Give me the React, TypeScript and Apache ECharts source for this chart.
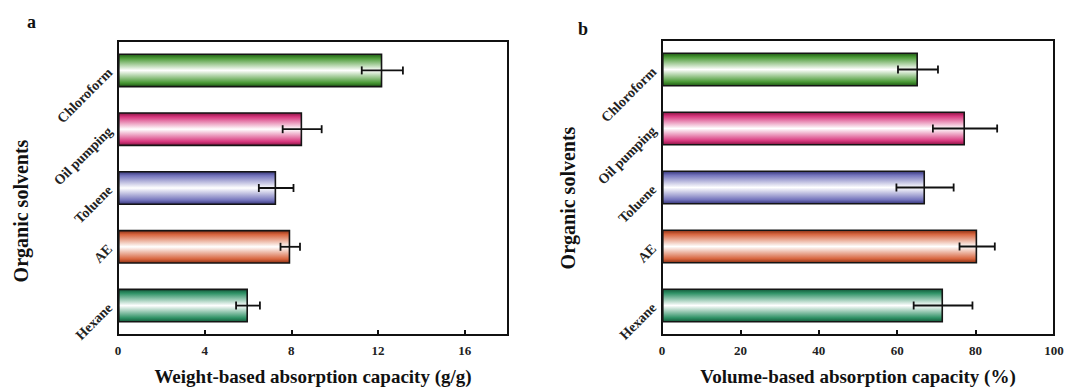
import React, { useEffect, useRef } from "react";
import * as echarts from "echarts";

const categories = ["Chloroform", "Oil pumping", "Toluene", "AE", "Hexane"];
const weightValues = [12.2, 8.5, 7.3, 7.95, 6.0];
const weightErrors = [0.95, 0.9, 0.8, 0.45, 0.55];
const volumeValues = [65.3, 77.3, 67.1, 80.4, 71.7];
const volumeErrors = [5.1, 8.2, 7.3, 4.5, 7.5];
const barColors = ["#4a9a36", "#d8387e", "#7474bc", "#d8653e", "#2f9266"];
const darkColors = ["#1f5a14", "#8a1444", "#36367a", "#8a3014", "#135a3a"];
const yTitle = "Organic solvents";

const FONT = "'Liberation Serif', 'Times New Roman', serif";

function gradient(i: number) {
  return new echarts.graphic.LinearGradient(0, 0, 0, 1, [
    { offset: 0, color: darkColors[i] },
    { offset: 0.12, color: barColors[i] },
    { offset: 0.5, color: "#ffffff" },
    { offset: 0.88, color: barColors[i] },
    { offset: 1, color: darkColors[i] },
  ]);
}

function errorSeries(values: number[], errs: number[], idx: number) {
  return {
    type: "custom",
    xAxisIndex: idx,
    yAxisIndex: idx,
    z: 5,
    encode: { x: [1, 2], y: 0 },
    data: values.map((v, i) => [i, v - errs[i], v + errs[i]]),
    renderItem: (params: any, api: any) => {
      const c = api.value(0);
      const p1 = api.coord([api.value(1), c]);
      const p2 = api.coord([api.value(2), c]);
      const h = 4;
      const style = { stroke: "#111", lineWidth: 1.8 };
      return {
        type: "group",
        children: [
          { type: "line", shape: { x1: p1[0], y1: p1[1], x2: p2[0], y2: p2[1] }, style },
          { type: "line", shape: { x1: p1[0], y1: p1[1] - h, x2: p1[0], y2: p1[1] + h }, style },
          { type: "line", shape: { x1: p2[0], y1: p2[1] - h, x2: p2[0], y2: p2[1] + h }, style },
        ],
      };
    },
  };
}

function barSeries(values: number[], idx: number) {
  return {
    type: "bar",
    xAxisIndex: idx,
    yAxisIndex: idx,
    barWidth: 34,
    data: values.map((v, i) => ({
      value: v,
      itemStyle: { color: gradient(i), borderColor: "#151515", borderWidth: 1.6 },
    })),
  };
}

function xAxis(gridIndex: number, max: number, interval: number, name: string) {
  return {
    type: "value",
    gridIndex,
    min: 0,
    max,
    interval,
    name,
    nameLocation: "middle",
    nameGap: 32,
    nameTextStyle: { fontFamily: FONT, fontWeight: "bold", fontSize: 19, color: "#111" },
    axisLine: { show: true, lineStyle: { color: "#111", width: 2 } },
    axisTick: { show: true, inside: true, length: 5, lineStyle: { color: "#111", width: 2 } },
    axisLabel: {
      show: true,
      margin: 9,
      fontFamily: FONT,
      fontWeight: "bold",
      fontSize: 13,
      color: "#222",
      showMaxLabel: max % interval === 0,
    },
    splitLine: { show: false },
  };
}

function yAxis(gridIndex: number) {
  return {
    type: "category",
    gridIndex,
    data: categories,
    inverse: true,
    axisLine: { show: true, lineStyle: { color: "#111", width: 2 } },
    axisTick: { show: false },
    axisLabel: {
      rotate: 45,
      margin: 8,
      fontFamily: FONT,
      fontWeight: "bold",
      fontSize: 14,
      color: "#222",
    },
    splitLine: { show: false },
  };
}

function titleText(x: number, y: number) {
  return {
    type: "text",
    x,
    y,
    rotation: Math.PI / 2,
    style: {
      text: yTitle,
      fontFamily: FONT,
      fontWeight: "bold",
      fontSize: 20,
      fill: "#111",
      align: "center",
      verticalAlign: "middle",
    },
  };
}

export default function App() {
  const ref = useRef<HTMLDivElement>(null);
  useEffect(() => {
    if (!ref.current) return;
    const chart = echarts.init(ref.current, null, { renderer: "svg" });
    chart.setOption({
      animation: false,
      backgroundColor: "#ffffff",
      grid: [
        { left: 118, top: 41, width: 390, height: 295, show: true, borderColor: "#111", borderWidth: 2 },
        { left: 662, top: 40, width: 392, height: 296, show: true, borderColor: "#111", borderWidth: 2 },
      ],
      xAxis: [
        xAxis(0, 18, 4, "Weight-based absorption capacity (g/g)"),
        xAxis(1, 100, 20, "Volume-based absorption capacity (%)"),
      ],
      yAxis: [yAxis(0), yAxis(1)],
      series: [
        barSeries(weightValues, 0),
        errorSeries(weightValues, weightErrors, 0),
        barSeries(volumeValues, 1),
        errorSeries(volumeValues, volumeErrors, 1),
      ],
      graphic: [
        {
          type: "text",
          left: 27,
          top: 13,
          style: { text: "a", fontFamily: FONT, fontWeight: "bold", fontSize: 18, fill: "#111" },
        },
        {
          type: "text",
          left: 578,
          top: 20,
          style: { text: "b", fontFamily: FONT, fontWeight: "bold", fontSize: 18, fill: "#111" },
        },
        titleText(21, 211),
        titleText(568, 198),
      ],
    });
    return () => chart.dispose();
  }, []);
  return (
    <div
      ref={ref}
      style={{ position: "absolute", left: 0, top: 0, width: 1083, height: 391 }}
    />
  );
}
